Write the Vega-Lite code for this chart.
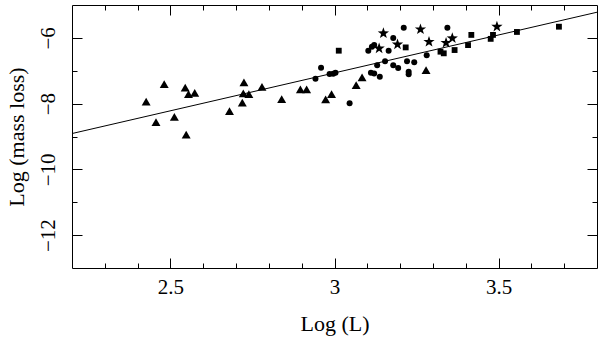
{
  "$schema": "https://vega.github.io/schema/vega-lite/v6.json",
  "width": 525,
  "height": 263,
  "autosize": {"type": "none"},
  "padding": {"left": 72, "top": 5, "right": 3, "bottom": 81},
  "background": "white",
  "config": {
    "view": {"stroke": "black", "strokeWidth": 1},
    "axis": {
      "domain": false,
      "grid": false,
      "tickColor": "black",
      "tickWidth": 1,
      "labelFont": "Liberation Serif",
      "labelFontSize": 21,
      "labelColor": "black",
      "titleFont": "Liberation Serif",
      "titleFontSize": 22,
      "titleFontWeight": "normal",
      "titleColor": "black"
    }
  },
  "datasets": {
    "fit": [
      {"logL": 2.2, "logM": -8.91},
      {"logL": 3.8, "logM": -5.22}
    ],
    "triangles": [
      {"logL": 2.426, "logM": -7.94},
      {"logL": 2.481, "logM": -7.41},
      {"logL": 2.456, "logM": -8.56},
      {"logL": 2.512, "logM": -8.40},
      {"logL": 2.545, "logM": -7.51},
      {"logL": 2.555, "logM": -7.71},
      {"logL": 2.574, "logM": -7.67},
      {"logL": 2.548, "logM": -8.94},
      {"logL": 2.680, "logM": -8.23},
      {"logL": 2.724, "logM": -7.35},
      {"logL": 2.722, "logM": -7.69},
      {"logL": 2.739, "logM": -7.71},
      {"logL": 2.719, "logM": -7.97},
      {"logL": 2.779, "logM": -7.49},
      {"logL": 2.839, "logM": -7.86},
      {"logL": 2.896, "logM": -7.57},
      {"logL": 2.915, "logM": -7.57},
      {"logL": 2.973, "logM": -7.87},
      {"logL": 2.991, "logM": -7.71},
      {"logL": 3.066, "logM": -7.44},
      {"logL": 3.084, "logM": -7.20},
      {"logL": 3.279, "logM": -6.98}
    ],
    "circles": [
      {"logL": 2.942, "logM": -7.24},
      {"logL": 2.959, "logM": -6.91},
      {"logL": 2.985, "logM": -7.10},
      {"logL": 2.996, "logM": -7.09},
      {"logL": 3.003, "logM": -7.06},
      {"logL": 3.046, "logM": -7.99},
      {"logL": 3.103, "logM": -6.39},
      {"logL": 3.114, "logM": -6.27},
      {"logL": 3.121, "logM": -6.22},
      {"logL": 3.111, "logM": -7.06},
      {"logL": 3.121, "logM": -7.08},
      {"logL": 3.130, "logM": -6.83},
      {"logL": 3.138, "logM": -7.18},
      {"logL": 3.154, "logM": -6.71},
      {"logL": 3.165, "logM": -6.39},
      {"logL": 3.179, "logM": -6.00},
      {"logL": 3.179, "logM": -6.83},
      {"logL": 3.194, "logM": -6.92},
      {"logL": 3.211, "logM": -5.69},
      {"logL": 3.221, "logM": -6.71},
      {"logL": 3.226, "logM": -7.03},
      {"logL": 3.226, "logM": -7.11},
      {"logL": 3.243, "logM": -6.74},
      {"logL": 3.281, "logM": -6.53},
      {"logL": 3.344, "logM": -5.69}
    ],
    "stars": [
      {"logL": 3.149, "logM": -5.86},
      {"logL": 3.136, "logM": -6.32},
      {"logL": 3.192, "logM": -6.20},
      {"logL": 3.262, "logM": -5.74},
      {"logL": 3.288, "logM": -6.12},
      {"logL": 3.340, "logM": -6.15},
      {"logL": 3.359, "logM": -6.01},
      {"logL": 3.495, "logM": -5.66}
    ],
    "squares": [
      {"logL": 3.013, "logM": -6.39},
      {"logL": 3.217, "logM": -6.29},
      {"logL": 3.323, "logM": -6.42},
      {"logL": 3.333, "logM": -6.47},
      {"logL": 3.366, "logM": -6.37},
      {"logL": 3.407, "logM": -6.22},
      {"logL": 3.417, "logM": -5.91},
      {"logL": 3.476, "logM": -6.03},
      {"logL": 3.483, "logM": -5.91},
      {"logL": 3.556, "logM": -5.82},
      {"logL": 3.684, "logM": -5.66}
    ]
  },
  "resolve": {"axis": {"x": "independent", "y": "independent"}},
  "layer": [
    {
      "data": {"name": "fit"},
      "mark": {"type": "line", "color": "black", "strokeWidth": 1},
      "encoding": {
        "x": {"field": "logL", "type": "quantitative",
              "scale": {"domain": [2.2, 3.8], "nice": false, "zero": false},
              "axis": {"orient": "bottom", "format": "~g",
                       "values": [2.3, 2.4, 2.5, 2.6, 2.7, 2.8, 2.9, 3, 3.1, 3.2, 3.3, 3.4, 3.5, 3.6, 3.7],
                       "tickSize": {"condition": {"test": "indexof([2.5, 3, 3.5], datum.value) >= 0", "value": -10}, "value": -5},
                       "labelExpr": "indexof([2.5, 3, 3.5], datum.value) >= 0 ? datum.label : ''",
                       "labelPadding": 18, "title": "Log (L)", "titlePadding": 16}},
        "y": {"field": "logM", "type": "quantitative",
              "scale": {"domain": [-13, -5], "nice": false, "zero": false},
              "axis": {"orient": "left", "format": "~g",
                       "values": [-6, -7, -8, -9, -10, -11, -12],
                       "tickSize": {"condition": {"test": "indexof([-6, -8, -10, -12], datum.value) >= 0", "value": -10}, "value": -5},
                       "labelExpr": "indexof([-6, -8, -10, -12], datum.value) >= 0 ? datum.label : ''",
                       "labelAngle": -90, "labelAlign": "center", "labelBaseline": "bottom", "labelPadding": 24,
                       "title": "Log (mass loss)", "titlePadding": 9}}
      }
    },
    {
      "data": {"name": "triangles"},
      "mark": {"type": "point", "shape": "triangle-up", "filled": true, "color": "black", "opacity": 1, "size": 80},
      "encoding": {
        "x": {"field": "logL", "type": "quantitative",
              "scale": {"domain": [2.2, 3.8], "nice": false, "zero": false},
              "axis": {"orient": "top",
                       "values": [2.3, 2.4, 2.5, 2.6, 2.7, 2.8, 2.9, 3, 3.1, 3.2, 3.3, 3.4, 3.5, 3.6, 3.7],
                       "tickSize": {"condition": {"test": "indexof([2.5, 3, 3.5], datum.value) >= 0", "value": -10}, "value": -5},
                       "labels": false, "title": null}},
        "y": {"field": "logM", "type": "quantitative",
              "scale": {"domain": [-13, -5], "nice": false, "zero": false},
              "axis": {"orient": "right",
                       "values": [-6, -7, -8, -9, -10, -11, -12],
                       "tickSize": {"condition": {"test": "indexof([-6, -8, -10, -12], datum.value) >= 0", "value": -10}, "value": -5},
                       "labels": false, "title": null}}
      }
    },
    {
      "data": {"name": "circles"},
      "mark": {"type": "point", "shape": "circle", "filled": true, "color": "black", "opacity": 1, "size": 36},
      "encoding": {
        "x": {"field": "logL", "type": "quantitative", "axis": null},
        "y": {"field": "logM", "type": "quantitative", "axis": null}
      }
    },
    {
      "data": {"name": "stars"},
      "mark": {"type": "point", "shape": "M0,-1L0.235,-0.324L0.951,-0.309L0.38,0.124L0.588,0.809L0,0.4L-0.588,0.809L-0.38,0.124L-0.951,-0.309L-0.235,-0.324Z", "filled": true, "color": "black", "opacity": 1, "size": 140},
      "encoding": {
        "x": {"field": "logL", "type": "quantitative", "axis": null},
        "y": {"field": "logM", "type": "quantitative", "axis": null}
      }
    },
    {
      "data": {"name": "squares"},
      "mark": {"type": "point", "shape": "M-1,-1L1,-1L1,1L-1,1Z", "filled": true, "color": "black", "opacity": 1, "size": 34},
      "encoding": {
        "x": {"field": "logL", "type": "quantitative", "axis": null},
        "y": {"field": "logM", "type": "quantitative", "axis": null}
      }
    }
  ]
}
